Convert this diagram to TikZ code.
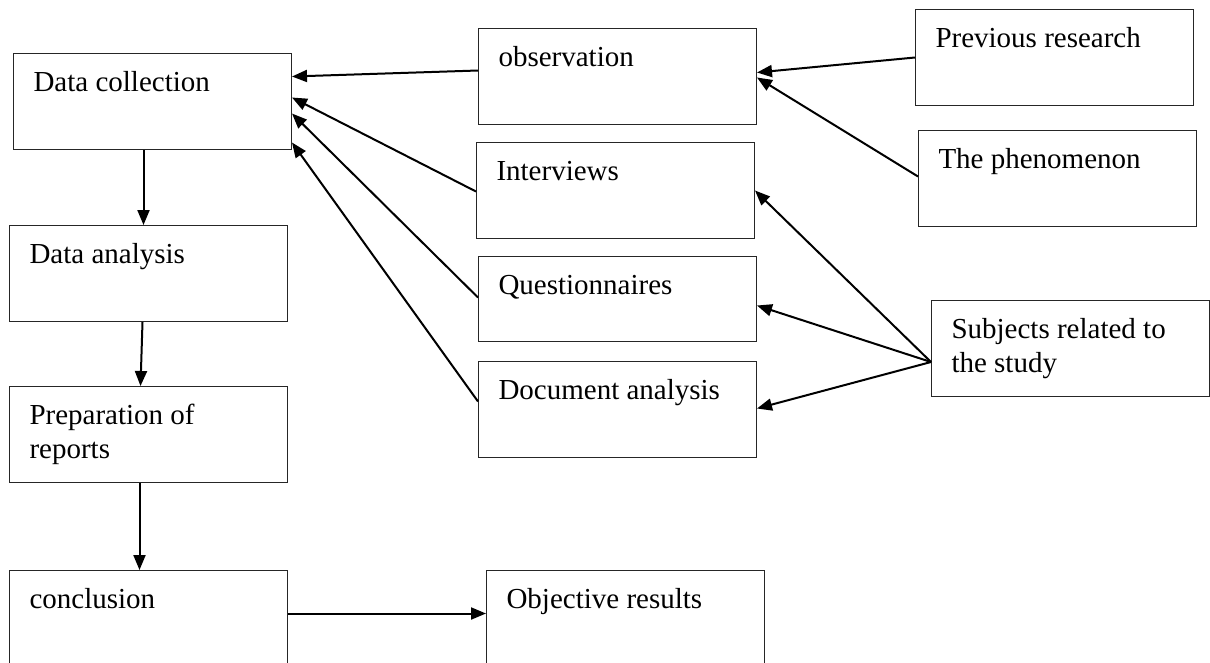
\documentclass[tikz,border=0pt]{standalone}
\usepackage{fontspec}
\setmainfont{Liberation Serif}
\usetikzlibrary{positioning,arrows.meta}

\newcommand{\boxtext}[2][62pt]{\parbox[t][#1][t]{238pt}{\raggedright\rule{0pt}{20.7pt}#2}}

\begin{document}
\begin{tikzpicture}[
    x=1pt, y=-1pt,
    stage/.style={rectangle, draw=black!85, line width=1pt, anchor=north west, inner xsep=20pt, inner ysep=17pt, font=\fontsize{29pt}{34pt}\selectfont},
    arrow/.style={-{Triangle[length=15pt,width=12pt]}, line width=2pt}
]
\useasboundingbox (0,0) rectangle (1210,662);

% left column
\node[stage] (collect) at (13,53) {\boxtext{Data collection}};
\node[stage, below=75pt of collect, xshift=-4pt] (analysis) {\boxtext{Data analysis}};
\node[stage, below=64pt of analysis] (reports) {\boxtext{Preparation of\\reports}};
\node[stage, below=87pt of reports] (conc) {\boxtext{conclusion}};
\node[stage, right=198pt of conc] (results) {\boxtext{Objective results}};

% methods
\node[stage] (obs) at (478,28) {\boxtext{observation}};
\node[stage, below=17pt of obs, xshift=-2pt] (inter) {\boxtext{Interviews}};
\node[stage, below=17pt of inter, xshift=2pt] (quest) {\boxtext[51pt]{Questionnaires}};
\node[stage, below=19pt of quest] (docs) {\boxtext{Document analysis}};

% sources
\node[stage] (prev) at (915,9) {\boxtext{Previous research}};
\node[stage, below=24pt of prev, xshift=3pt] (phen) {\boxtext{The phenomenon}};
\node[stage] (subj) at (931,300) {\boxtext{Subjects related to\\the study}};

\draw[arrow] ([xshift=-9pt]collect.south) -- ([xshift=-5pt]analysis.north);
\draw[arrow] ([xshift=-6pt]analysis.south) -- ([xshift=-8pt]reports.north);
\draw[arrow] ([xshift=-9pt]reports.south) -- ([xshift=-9pt]conc.north);
\draw[arrow] ([yshift=5pt]conc.east) -- ([yshift=5pt]results.west);

\draw[arrow] ([yshift=6pt]obs.west) -- ([yshift=25pt]collect.east);
\draw[arrow] ([yshift=-1pt]inter.west) -- ([yshift=4pt]collect.east);
\draw[arrow] ([yshift=1.5pt]quest.west) -- ([yshift=-12pt]collect.east);
\draw[arrow] ([yshift=8pt]docs.west) -- ([yshift=-41pt]collect.east);

\draw[arrow] (prev.west) -- ([yshift=4pt]obs.east);
\draw[arrow] ([yshift=2pt]phen.west) -- ([yshift=-1pt]obs.east);
\draw[arrow] ([yshift=-13.5pt]subj.west) -- (inter.east);
\draw[arrow] ([yshift=-13.5pt]subj.west) -- ([yshift=-6.5pt]quest.east);
\draw[arrow] ([yshift=-13.5pt]subj.west) -- ([yshift=1pt]docs.east);

\end{tikzpicture}
\end{document}
